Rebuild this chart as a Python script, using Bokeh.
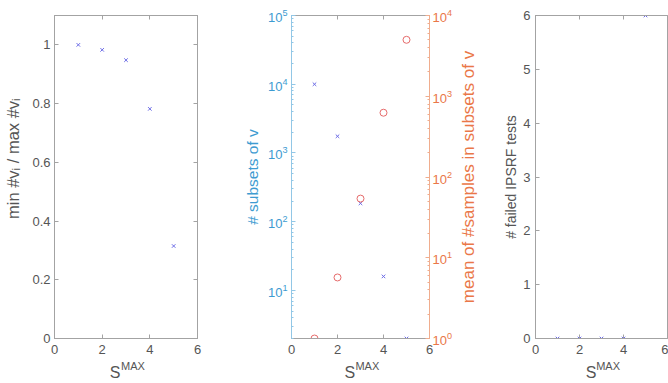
import math
from bokeh.plotting import figure
from bokeh.layouts import row
from bokeh.models import (Range1d, LinearAxis, LogAxis, FixedTicker, LogScale,
                          LogTicker, CustomJSTickFormatter)
from bokeh.embed import file_html
from bokeh.resources import INLINE

# ---- data ----
s_max = [1, 2, 3, 4, 5]
ratio_min_max = [1.0, 0.983, 0.948, 0.782, 0.315]
n_subsets = [10000, 1750, 185, 16, 2]
mean_samples = [1, 5.7, 54, 625, 5000]
failed_ipsrf = [0, 0, 0, 0, 6]

x_ticks = [0, 2, 4, 6]
ratio_ticks = [0, 0.2, 0.4, 0.6, 0.8, 1]
failed_ticks = [0, 1, 2, 3, 4, 5, 6]

# ---- style ----
FONT = "Liberation Sans"
GREY_LINE = "#a3a3a3"
GREY_TEXT = "#555555"
BLUE_TEXT = "#3d9bd1"
BLUE_LINE = "#92c7e6"
ORANGE_TEXT = "#ea7748"
ORANGE_LINE = "#f0ad8e"
MARK_BLUE = "#6b6be6"
MARK_RED = "#e66b6b"

H = 383
TOP = 15
FRAME_H = 323
BOTTOM = H - TOP - FRAME_H
TICK_FS = "13px"
NBSP = "\u00a0"


def style_axis(ax, line_color=GREY_LINE, text_color=GREY_TEXT, standoff=5, minor=False,
               label_size="14px"):
    ax.axis_line_color = line_color
    ax.major_tick_line_color = line_color
    ax.major_tick_in = 4
    ax.major_tick_out = 0
    if minor:
        ax.minor_tick_line_color = line_color
        ax.minor_tick_in = 2
        ax.minor_tick_out = 0
    else:
        ax.minor_tick_line_color = None
    ax.major_label_text_font = FONT
    ax.major_label_text_font_size = TICK_FS
    ax.major_label_text_color = text_color
    ax.major_label_standoff = standoff
    ax.axis_label_text_font = FONT
    ax.axis_label_text_font_size = label_size
    ax.axis_label_text_font_style = "normal"
    ax.axis_label_text_color = text_color


def mirror_axis(p, side, ticks):
    ax = LinearAxis(ticker=FixedTicker(ticks=ticks))
    style_axis(ax)
    ax.major_label_text_color = None
    ax.major_label_standoff = 0
    p.add_layout(ax, side)


def label_only_axis(text, color, size, standoff):
    ax = LinearAxis(ticker=FixedTicker(ticks=[]), axis_label=text,
                    axis_line_color=None, major_tick_line_color=None,
                    minor_tick_line_color=None, major_tick_in=0, major_tick_out=0,
                    major_label_text_color=None, major_label_standoff=0,
                    axis_label_standoff=standoff, axis_label_text_font=FONT,
                    axis_label_text_font_size=size, axis_label_text_font_style="normal",
                    axis_label_text_color=color)
    return ax


def xlabel_axes(p, frame_w):
    # "S" with superscript "MAX", as two label-only axes under the tick axis
    upx = (x_ticks[-1] - x_ticks[0]) / frame_w
    mid = (x_ticks[0] + x_ticks[-1]) / 2
    for text, size, standoff, dx in (("MAX", "11px", 3, 7), ("S", "16px", -11, -11)):
        ax = LinearAxis(ticker=FixedTicker(ticks=[mid + dx * upx]),
                        formatter=CustomJSTickFormatter(code=f"return '{text}'"),
                        axis_line_color=None, major_tick_line_color=None,
                        minor_tick_line_color=None, major_tick_in=0, major_tick_out=0,
                        major_label_standoff=standoff, major_label_text_font=FONT,
                        major_label_text_font_size=size, major_label_text_color=GREY_TEXT)
        p.add_layout(ax, "below")


def base_fig(width, left, right, **kw):
    p = figure(width=width, height=H, output_backend="svg", toolbar_location=None,
               x_range=Range1d(x_ticks[0], x_ticks[-1]),
               min_border_left=left, min_border_right=right,
               min_border_top=TOP, min_border_bottom=BOTTOM, **kw)
    p.grid.visible = False
    p.outline_line_color = GREY_LINE
    p.background_fill_color = "white"
    p.border_fill_color = "white"
    p.xaxis.ticker = FixedTicker(ticks=x_ticks)
    style_axis(p.xaxis[0], standoff=6)
    xlabel_axes(p, width - left - right)
    return p


# ---- panel 1 ----
p1 = base_fig(240, 54, 43, y_range=Range1d(0, 1.1))
p1.yaxis.ticker = FixedTicker(ticks=ratio_ticks)
p1.yaxis.major_label_overrides = {t: f"{t:g}" for t in ratio_ticks}
style_axis(p1.yaxis[0], standoff=4, label_size="16.5px")
p1.yaxis.axis_label = NBSP * 8 + "min #v\u1d62 / max #v\u1d62"
p1.yaxis.axis_label_standoff = 7
mirror_axis(p1, "above", x_ticks)
mirror_axis(p1, "right", ratio_ticks)
p1.scatter(s_max, ratio_min_max, marker="x", size=5, line_color=MARK_BLUE, line_width=1)

# ---- panel 2 ----
p2 = base_fig(215, 50, 23, y_axis_type="log", y_range=Range1d(2, 1e5))
p2.extra_y_ranges = {"right": Range1d(1, 1e4)}
p2.extra_y_scales = {"right": LogScale()}
p2.yaxis.ticker = LogTicker(num_minor_ticks=10)
style_axis(p2.yaxis[0], BLUE_LINE, BLUE_TEXT, standoff=4, minor=True, label_size="15.5px")
p2.yaxis.axis_label = "# subsets of v"
p2.yaxis.axis_label_standoff = 4
rax = LogAxis(y_range_name="right", ticker=LogTicker(num_minor_ticks=10))
style_axis(rax, ORANGE_LINE, ORANGE_TEXT, standoff=3, minor=True)
p2.add_layout(rax, "right")
mirror_axis(p2, "above", x_ticks)
p2.scatter(s_max, n_subsets, marker="x", size=5, line_color=MARK_BLUE, line_width=1)
p2.scatter(s_max, mean_samples, marker="circle", size=7, line_color=MARK_RED,
           fill_color=None, line_width=1, y_range_name="right")

# ---- panel 3 ----
p3 = base_fig(213, 71, 1, y_range=Range1d(failed_ticks[0], failed_ticks[-1]))
p3.yaxis.ticker = FixedTicker(ticks=failed_ticks)
style_axis(p3.yaxis[0], standoff=5, label_size="14px")
p3.yaxis.axis_label = "# failed IPSRF tests"
p3.yaxis.axis_label_standoff = 1
# title of panel 2's right-hand (orange) axis, drawn in the gap between the panels
p3.add_layout(label_only_axis("mean of #samples in subsets of v", ORANGE_TEXT,
                              "17px", 23), "left")
mirror_axis(p3, "above", x_ticks)
p3.scatter(s_max, failed_ipsrf, marker="x", size=5, line_color=MARK_BLUE, line_width=1)

layout = row(p1, p2, p3)
open("out.html", "w").write(file_html(layout, INLINE))
